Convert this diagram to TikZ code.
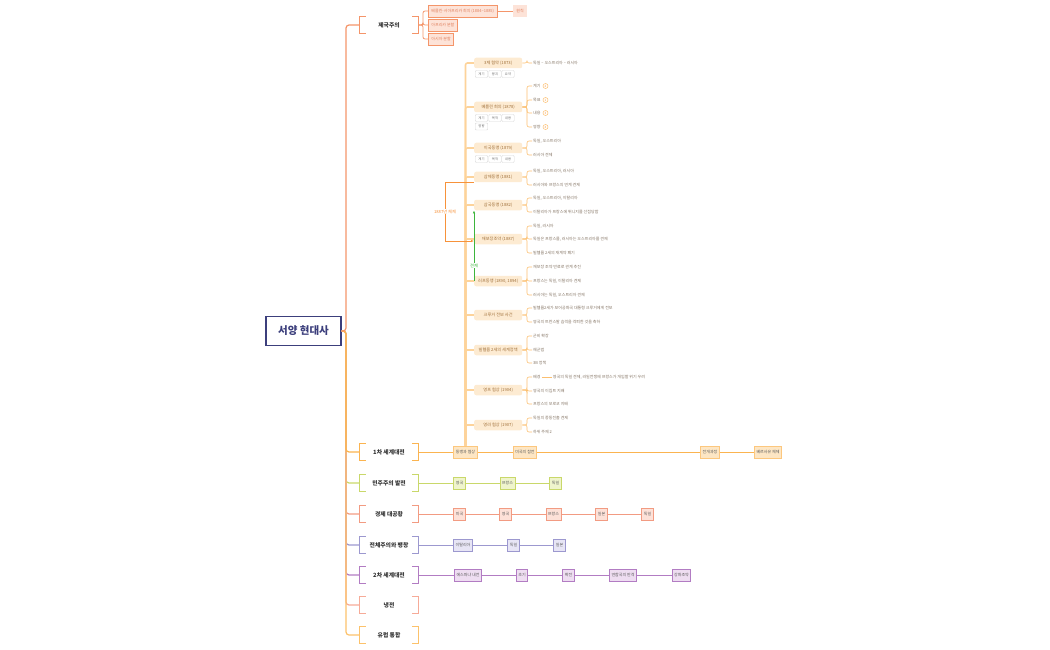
\documentclass[tikz,border=0pt]{standalone}
\usepackage{fontspec}
\setmainfont{Noto Sans CJK KR}
\usetikzlibrary{positioning,arrows.meta}
% Colours of the map
\definecolor{rootblue}{HTML}{3C3F7C}
\definecolor{textdark}{HTML}{333333}
\definecolor{impline}{HTML}{F4956A}
\definecolor{impfill}{HTML}{FDE3D8}
\definecolor{imptext}{HTML}{E0805E}
\definecolor{wwoneline}{HTML}{FBB450}
\definecolor{wwonedraw}{HTML}{FCC77E}
\definecolor{wwonefill}{HTML}{FDE6C4}
\definecolor{bisfill}{HTML}{FDEBD2}
\definecolor{bistext}{HTML}{A0703A}
\definecolor{bisline}{HTML}{FDD39A}
\definecolor{leafline}{HTML}{FBBF70}
\definecolor{leaftext}{HTML}{857565}
\definecolor{demline}{HTML}{C9D86A}
\definecolor{demfill}{HTML}{EFF4CC}
\definecolor{ecoline}{HTML}{F29B82}
\definecolor{ecofill}{HTML}{FDE1D8}
\definecolor{totline}{HTML}{9C98CF}
\definecolor{totfill}{HTML}{E7E5F5}
\definecolor{wwtwoline}{HTML}{B27CC3}
\definecolor{wwtwofill}{HTML}{EEDDF1}
\definecolor{coldline}{HTML}{F6AB98}
\definecolor{euline}{HTML}{FCC26B}
\definecolor{relorange}{HTML}{F7923A}
\definecolor{relgreen}{HTML}{3DB53D}
\tikzset{
  centre/.style = {draw=rootblue, line width=1.2pt, text=rootblue,
    minimum width=75pt, minimum height=29pt, inner sep=0pt,
    font=\fontsize{10.5}{12}\selectfont\bfseries},
  topic/.style = {minimum width=58pt, minimum height=16pt, inner sep=0pt,
    text=textdark, font=\fontsize{5.8}{7}\selectfont\bfseries},
  trunk/.style = {line width=1.2pt, rounded corners=3pt},
  impitem/.style = {anchor=west, draw=impline, fill=impfill, line width=0.8pt,
    text=imptext, minimum height=12pt, inner xsep=3pt, inner ysep=0pt,
    font=\fontsize{4}{5}\selectfont},
  alliance/.style = {anchor=west, fill=bisfill, rounded corners=2pt, text=bistext,
    minimum width=48pt, minimum height=10.5pt, inner xsep=3pt, inner ysep=0pt,
    font=\fontsize{4.2}{5}\selectfont},
  detail/.style = {anchor=west, text=leaftext, inner sep=1pt,
    font=\fontsize{4}{5}\selectfont},
  notetag/.style = {draw=black!15, fill=white, rounded corners=1pt, text=black!55,
    minimum width=12.5pt, minimum height=7pt, inner sep=0pt,
    font=\fontsize{3.3}{4}\selectfont},
  badge/.style = {circle, draw=leafline, line width=0.5pt, text=relorange,
    minimum size=5pt, inner sep=0pt, font=\fontsize{3}{3}\selectfont},
  timebox/.style 2 args = {draw=#1, fill=#2, line width=0.8pt, text=textdark!80,
    minimum height=12pt, inner xsep=2pt, inner ysep=0pt,
    font=\fontsize{4}{5}\selectfont},
  relnote/.style = {fill=white, inner sep=1pt, font=\fontsize{4.2}{5}\selectfont}
}

\begin{document}
\begin{tikzpicture}[x=1pt,y=-1pt]
  \useasboundingbox (0,0) rectangle (1050,650);
  % Central topic
  \node[centre] (root) at (303.5,331) {서양 현대사};
  % Main topics
  \foreach \n/\y/\txt in {imp/25/제국주의, ww1/452/1차 세계대전, dem/483/민주주의 발전,
      eco/514/경제 대공황, tot/545/전체주의와 팽창, ww2/575/2차 세계대전,
      cold/605/냉전, eu/635/유럽 통합}
    \node[topic] (\n) at (389,\y) {\txt};
  % Lines from the centre to the main topics
  \coordinate (trunkx) at (346,0);
  \foreach \n/\col in {dem/demline, eco/ecoline, tot/totline, ww2/wwtwoline,
      cold/coldline, eu/euline, ww1/wwoneline, imp/impline}
    \draw[trunk, draw=\col] (root.east) -- (root.east -| trunkx) |- (\n.west);
  % Brackets round the main topics
  \foreach \n/\col in {imp/impline, ww1/wwoneline, dem/demline, eco/ecoline,
      tot/totline, ww2/wwtwoline, cold/coldline, eu/euline}
    \draw[draw=\col, line width=0.8pt]
      ([xshift=6pt]\n.north west) -| (\n.south west) -- ([xshift=6pt]\n.south west)
      ([xshift=-6pt]\n.north east) -| (\n.south east) -- ([xshift=-6pt]\n.south east);

  % Imperialism
  \coordinate (impx) at (423,0);
  \node[impitem] (berconf) at (428,11) {베를린-서아프리카 회의 (1884\textasciitilde1885)};
  \node[impitem] (africa) at (428,25) {아프리카 분할};
  \node[impitem] (asia) at (428,39) {아시아 분할};
  \node[impitem, draw=none] (principle) at (513,11) {원칙};
  \foreach \n in {berconf,africa,asia}
    \draw[impline, line width=0.8pt, rounded corners=2pt] (imp.east) -- (imp.east -| impx) |- (\n.west);
  \draw[impline, line width=0.8pt] (berconf) -- (principle);

  % First World War timeline
  \foreach \n/\x/\txt in {ally/465.5/동맹과 협상, usa/525/미국의 참전,
      course/710/전개과정, versa/768/베르사유 체제}
    \node[timebox={wwonedraw}{wwonefill}] (\n) at (\x,452) {\txt};
  \draw[wwoneline, line width=1pt] (ww1.east) -- (ally) -- (usa) -- (course) -- (versa);
  % Democracy
  \foreach \n/\x/\txt in {demuk/459.5/영국, demfr/507.5/프랑스, demde/555.5/독일}
    \node[timebox={demline}{demfill}] (\n) at (\x,483) {\txt};
  \draw[demline, line width=1pt] (dem.east) -- (demuk) -- (demfr) -- (demde);
  % Great Depression
  \foreach \n/\x/\txt in {ecous/459.5/미국, ecouk/505.5/영국, ecofr/553.5/프랑스,
      ecojp/601.5/일본, ecode/647.5/독일}
    \node[timebox={ecoline}{ecofill}] (\n) at (\x,514) {\txt};
  \draw[ecoline, line width=1pt] (eco.east) -- (ecous) -- (ecouk) -- (ecofr) -- (ecojp) -- (ecode);
  % Totalitarianism
  \foreach \n/\x/\txt in {totit/463/이탈리아, totde/513.5/독일, totjp/559.5/일본}
    \node[timebox={totline}{totfill}] (\n) at (\x,545) {\txt};
  \draw[totline, line width=1pt] (tot.east) -- (totit) -- (totde) -- (totjp);
  % Second World War
  \foreach \n/\x/\txt in {spain/468/에스파냐 내전, early/522/초기, expand/568.5/확전,
      allied/623/연합국의 반격, peace/681.5/강화조약}
    \node[timebox={wwtwoline}{wwtwofill}] (\n) at (\x,575) {\txt};
  \draw[wwtwoline, line width=1pt] (ww2.east) -- (spain) -- (early) -- (expand) -- (allied) -- (peace);

  % Alliance system above the first box
  \foreach \n/\y/\txt in {tri/63/3제 협약 (1873), berlin/107/베를린 회의 (1878),
      dual/148/이국동맹 (1879), samje/177/삼제동맹 (1881), samguk/205/삼국동맹 (1882),
      reins/239/재보장조약 (1887), rufr/281/{러프동맹 (1890, 1894)},
      kruger/315/크루거 전보 사건, welt/350/빌헬름 2세의 세계정책,
      entente/390/영프 협상 (1904), angloru/425/영러 협상 (1907)}
    \draw[bisline, line width=1.6pt, rounded corners=2pt] (ally.north) |- (474,\y);
  \foreach \n/\y/\txt in {tri/63/3제 협약 (1873), berlin/107/베를린 회의 (1878),
      dual/148/이국동맹 (1879), samje/177/삼제동맹 (1881), samguk/205/삼국동맹 (1882),
      reins/239/재보장조약 (1887), rufr/281/{러프동맹 (1890, 1894)},
      kruger/315/크루거 전보 사건, welt/350/빌헬름 2세의 세계정책,
      entente/390/영프 협상 (1904), angloru/425/영러 협상 (1907)}
    \node[alliance] (\n) at (474,\y) {\txt};
  % Tags under the alliances
  \foreach \x/\txt [count=\i] in {481.5/계기, 495/붕괴, 508/요약}
    \node[notetag] (tritag\i) at (\x,74) {\txt};
  \foreach \x/\y/\txt [count=\i] in {481.5/118/계기, 495/118/목적, 508/118/내용, 481.5/126.5/영향}
    \node[notetag] (bertag\i) at (\x,\y) {\txt};
  \foreach \x/\txt [count=\i] in {481.5/계기, 495/목적, 508/내용}
    \node[notetag] (dualtag\i) at (\x,159) {\txt};
  % Details of each alliance
  \coordinate (spine) at (527,0);
  \foreach \p/\y/\txt [count=\i] in {tri/63/독일 – 오스트리아 – 러시아,
      berlin/86/계기, berlin/100/목표, berlin/113/내용, berlin/127/영향,
      dual/141/{독일, 오스트리아}, dual/155/러시아 견제,
      samje/171/{독일, 오스트리아, 러시아}, samje/185/러시아와 프랑스의 연계 견제,
      samguk/198/{독일, 오스트리아, 이탈리아}, samguk/212/이탈리아가 프랑스에 튀니지를 선점당함,
      reins/226/{독일, 러시아}, reins/239/{독일은 프랑스를, 러시아는 오스트리아를 견제},
      reins/253/빌헬름 2세의 재계약 폐기,
      rufr/267/재보장 조약 만료로 관계 추진, rufr/281/{프랑스는 독일, 이탈리아 견제},
      rufr/295/{러시아는 독일, 오스트리아 견제},
      kruger/308/빌헬름2세가 보어공화국 대통령 크루거에게 전보,
      kruger/322/영국의 트란스발 습격을 격퇴한 것을 축하,
      welt/336/군비 확장, welt/350/해군법, welt/363/3B 정책,
      entente/377/배경, entente/391/영국의 이집트 지배, entente/404/프랑스의 모로코 지배,
      angloru/418/독일의 중동진출 견제, angloru/432/하위 주제 2}
  {
    \node[detail] (leaf\i) at (532,\y) {\txt};
    \draw[leafline, line width=0.6pt, rounded corners=2pt] (\p.east) -- (\p.east -| spine) |- (leaf\i.west);
  }
  % Markers after the details of the congress
  \foreach \i/\k in {2/2, 3/1, 4/3, 5/4}
    \node[badge, right=1pt of leaf\i] (badge\i) {\k};
  % Background of the entente
  \node[detail, right=10pt of leaf23] (bgdetail) {영국의 독일 견제, 러일전쟁에 프랑스가 개입할 위기 우려};
  \draw[leafline, line width=0.8pt] (leaf23) -- (bgdetail);

  % Relations
  \coordinate (relx) at (445,0);
  \draw[relorange, line width=0.6pt, -{Latex[length=3pt,width=2.5pt]}]
    ([yshift=-5pt]samje.west) -- ([yshift=-5pt]samje.west -| relx)
    -- node[relnote, text=relorange] (sysnote) {1887년 체제} ([yshift=-2pt]reins.west -| relx)
    -- ([yshift=-2pt]reins.west);
  \draw[relgreen, line width=0.6pt, -{Latex[length=3pt,width=2.5pt]}]
    (rufr.west) -- node[relnote, text=relgreen, pos=0.22] (checknote) {견제} (samguk.south west);
\end{tikzpicture}
\end{document}
